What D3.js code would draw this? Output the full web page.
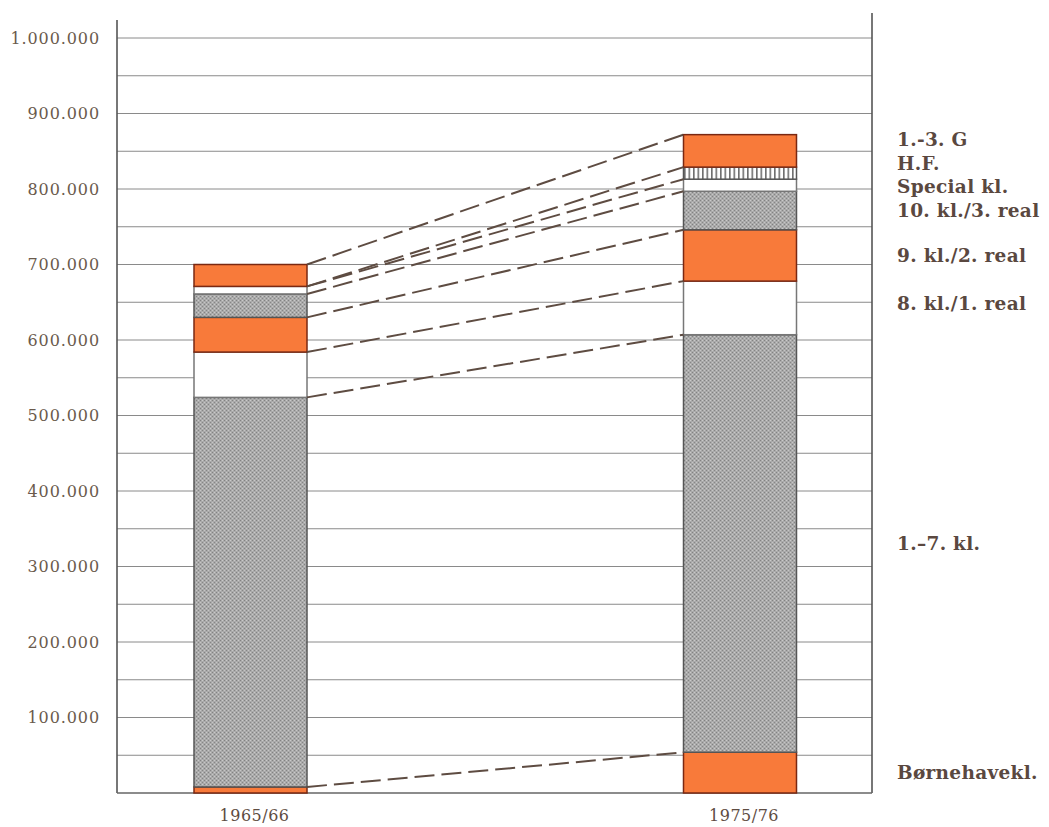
<!DOCTYPE html>
<html><head><meta charset="utf-8">
<script src="https://cdn.jsdelivr.net/npm/d3@7/dist/d3.min.js"></script>
<style>
body{margin:0;background:#fff;}
svg{display:block;}
</style></head>
<body>
<svg id="chart" width="1049" height="827"></svg>
<script>
// ---- data ----
const categories = ["1965/66", "1975/76"];
const seriesNames = ["Børnehavekl.", "1.–7. kl.", "8. kl./1. real", "9. kl./2. real",
                     "10. kl./3. real", "Special kl.", "H.F.", "1.-3. G"];
const values1965 = [8000, 516000, 60000, 46000, 31000, 10000, 0, 29000];
const values1975 = [54000, 553000, 71000, 68000, 51000, 16000, 16000, 43000];
const seriesFill = ["orange", "gray", "white", "orange", "gray", "white", "hatch", "orange"];
const yTickLabels = [100000, 200000, 300000, 400000, 500000, 600000, 700000, 800000, 900000, 1000000];
const gridValues = d3.range(50000, 1000001, 50000);

const svg = d3.select("#chart");
const y = d3.scaleLinear().domain([0, 1000000]).range([793, 38]);
const x = d3.scalePoint().domain(categories).range([250.5, 740]);
const barW = 113;
const axisL = 117, axisR = 872;

// patterns
const defs = svg.append("defs");
const pg = defs.append("pattern").attr("id", "stip").attr("width", 4).attr("height", 4)
  .attr("patternUnits", "userSpaceOnUse");
pg.append("rect").attr("width", 4).attr("height", 4).attr("fill", "#aaaaaa");
pg.append("rect").attr("x", 0).attr("y", 0).attr("width", 1).attr("height", 1).attr("fill", "#828282");
pg.append("rect").attr("x", 2).attr("y", 2).attr("width", 1).attr("height", 1).attr("fill", "#868686");
pg.append("rect").attr("x", 2).attr("y", 0).attr("width", 1).attr("height", 1).attr("fill", "#cacaca");
pg.append("rect").attr("x", 0).attr("y", 2).attr("width", 1).attr("height", 1).attr("fill", "#c6c6c6");
const ph = defs.append("pattern").attr("id", "hatch").attr("width", 4.5).attr("height", 10)
  .attr("patternUnits", "userSpaceOnUse");
ph.append("rect").attr("width", 4.5).attr("height", 10).attr("fill", "#fff");
ph.append("rect").attr("x", 0).attr("width", 1.6).attr("height", 10).attr("fill", "#6e6e6e");

const fillOf = {orange: "#f87a3a", gray: "url(#stip)", white: "#ffffff", hatch: "url(#hatch)"};
const strokeOf = {orange: "#7a2812", gray: "#555", white: "#777", hatch: "#555"};

// gridlines
svg.append("g").selectAll("line").data(gridValues).join("line")
  .attr("x1", axisL).attr("x2", axisR)
  .attr("y1", d => y(d)).attr("y2", d => y(d))
  .attr("stroke", "#8a8a8a").attr("stroke-width", 1);

// axes lines
svg.append("line").attr("x1", axisL).attr("x2", axisL).attr("y1", 20).attr("y2", y(0))
  .attr("stroke", "#555").attr("stroke-width", 1.6);
svg.append("line").attr("x1", axisR).attr("x2", axisR).attr("y1", 13).attr("y2", y(0))
  .attr("stroke", "#555").attr("stroke-width", 1.6);
svg.append("line").attr("x1", axisL).attr("x2", axisR).attr("y1", y(0)).attr("y2", y(0))
  .attr("stroke", "#666").attr("stroke-width", 1.6);

// y axis labels
const fmt = v => d3.format(",")(v).replace(/,/g, ".");
const yAxis = svg.append("g").attr("transform", `translate(${axisL - 17},0)`)
  .call(d3.axisLeft(y).tickValues(yTickLabels).tickFormat(fmt).tickSize(0).tickPadding(0));
yAxis.select(".domain").remove();
yAxis.selectAll("text")
  .attr("font-family", "'DejaVu Serif', serif").attr("font-size", 16)
  .attr("letter-spacing", 0.9).attr("fill", "#6a5a4c");

// stacks
const allVals = [values1965, values1975];
function stackOf(vals) {
  let c = 0;
  return vals.map((v, i) => { const s = {i, y0: c, y1: c + v}; c += v; return s; });
}
const stacks = allVals.map(stackOf);

// bars
categories.forEach((cat, ci) => {
  const g = svg.append("g");
  const cx = x(cat);
  g.selectAll("rect").data(stacks[ci].filter(s => s.y1 > s.y0)).join("rect")
    .attr("x", cx - barW / 2).attr("width", barW)
    .attr("y", d => y(d.y1)).attr("height", d => y(d.y0) - y(d.y1))
    .attr("fill", d => fillOf[seriesFill[d.i]])
    .attr("stroke", d => strokeOf[seriesFill[d.i]])
    .attr("stroke-width", 1.5);
});

// dashed connectors
const leftEdge = x(categories[0]) + barW / 2;
const rightEdge = x(categories[1]) - barW / 2;
svg.append("g").selectAll("line").data(seriesNames.map((n, i) => i)).join("line")
  .attr("x1", leftEdge).attr("y1", i => y(stacks[0][i].y1))
  .attr("x2", rightEdge).attr("y2", i => y(stacks[1][i].y1))
  .attr("stroke", "#5e4c42").attr("stroke-width", 2)
  .attr("stroke-dasharray", "20,7");

// category labels
svg.append("g").selectAll("text").data(categories).join("text")
  .attr("x", d => x(d) + 4).attr("y", 821)
  .attr("text-anchor", "middle")
  .attr("font-family", "'DejaVu Serif', serif").attr("font-size", 16)
  .attr("letter-spacing", 0.5).attr("fill", "#5e4c42")
  .text(d => d);

// series labels at right
const nudge = [0, 0, -4, 0, 0, 1, -10, -11];
svg.append("g").selectAll("text").data(seriesNames).join("text")
  .attr("x", 897)
  .attr("y", (d, i) => (y(stacks[1][i].y0) + y(stacks[1][i].y1)) / 2 + nudge[i])
  .attr("dy", "0.35em")
  .attr("font-family", "'DejaVu Serif', serif").attr("font-weight", "bold")
  .attr("font-size", 18.5).attr("letter-spacing", 0.3).attr("fill", "#5a4840")
  .text(d => d);
</script>
</body></html>
